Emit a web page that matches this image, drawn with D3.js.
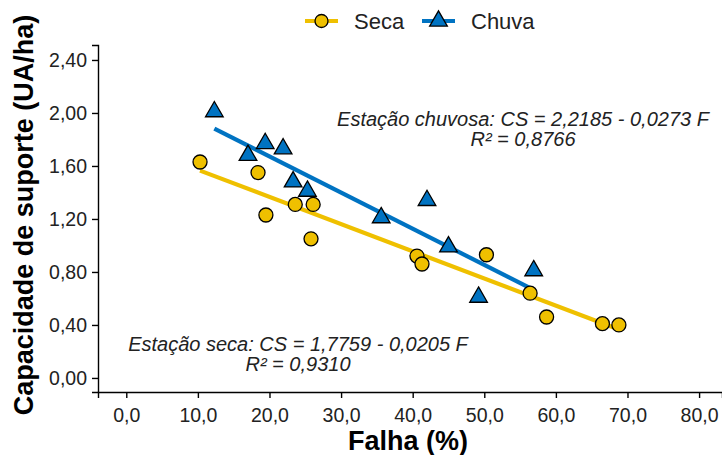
<!DOCTYPE html>
<html>
<head>
<meta charset="utf-8">
<script src="https://cdn.jsdelivr.net/npm/d3@7"></script>
<style>
  html, body { margin: 0; padding: 0; background: #fff; }
  svg { display: block; font-family: "Liberation Sans", Arial, sans-serif; }
</style>
</head>
<body>
<svg id="chart" width="722" height="455"></svg>
<script>
// Dry season observations (failure %, carrying capacity UA/ha)
const secaFalha = [10.3, 18.4, 19.5, 23.6, 26.1, 25.8, 40.6, 41.3, 50.3, 56.4, 58.7, 66.5, 68.8];
const secaCS    = [1.63, 1.55, 1.23, 1.31, 1.31, 1.05, 0.92, 0.86, 0.93, 0.64, 0.46, 0.41, 0.40];

// Rainy season observations
const chuvaFalha = [12.3, 17.0, 19.4, 21.9, 23.3, 25.3, 35.6, 42.0, 45.0, 49.2, 56.9];
const chuvaCS    = [2.01, 1.68, 1.77, 1.73, 1.48, 1.41, 1.21, 1.34, 0.99, 0.61, 0.81];

// Fitted regressions: CS = a - b * F
const secaFit  = { a: 1.7759, b: 0.0205 };
const chuvaFit = { a: 2.2185, b: 0.0273 };

const xTicks = [0, 10, 20, 30, 40, 50, 60, 70, 80];
const yTicks = [0, 0.4, 0.8, 1.2, 1.6, 2.0, 2.4];

const seriesNames = ["Seca", "Chuva"];
const labelsSeca  = ["Estação seca: CS = 1,7759 - 0,0205 F", "R² = 0,9310"];
const labelsChuva = ["Estação chuvosa: CS = 2,2185 - 0,0273 F", "R² = 0,8766"];

const yellow = "#EFC000";
const blue = "#0073C2";

const svg = d3.select("#chart");

const x = d3.scaleLinear().domain([-3.95, 83.2]).range([98, 722]);
const y = d3.scaleLinear().domain([-0.106, 2.513]).range([392, 45]);

const comma = fmt => v => fmt(v).replace(".", ",");

// Axes
const xAxis = svg.append("g")
  .attr("transform", `translate(0,${y.range()[0]})`)
  .call(d3.axisBottom(x).tickValues(xTicks).tickFormat(comma(d3.format(".1f"))).tickSizeOuter(0).tickSize(6).tickPadding(5));
const yAxis = svg.append("g")
  .attr("transform", `translate(${x.range()[0]},0)`)
  .call(d3.axisLeft(y).tickValues(yTicks).tickFormat(comma(d3.format(".2f"))).tickSizeOuter(0).tickSize(6).tickPadding(5));

[xAxis, yAxis].forEach(g => {
  g.select(".domain").attr("stroke", "#000").attr("stroke-width", 1.4);
  g.selectAll(".tick line").attr("stroke", "#000").attr("stroke-width", 1.4);
  g.selectAll(".tick text")
    .attr("fill", "#222")
    .style("font-size", "19.5px")
    .style("font-family", "'Liberation Sans', Arial, sans-serif");
});
xAxis.selectAll(".tick text").attr("dy", "0.95em");

// Axis titles
svg.append("text")
  .attr("x", 408).attr("y", 450)
  .attr("text-anchor", "middle")
  .style("font-size", "27px").style("font-weight", "bold")
  .text("Falha (%)");
svg.append("text")
  .attr("transform", "translate(33,215) rotate(-90)")
  .attr("text-anchor", "middle")
  .style("font-size", "27px").style("font-weight", "bold")
  .text("Capacidade de suporte (UA/ha)");

// Regression lines over the observed range of each season
function fitLine(fit, xs, color) {
  const [x0, x1] = d3.extent(xs);
  svg.append("line")
    .attr("x1", x(x0)).attr("y1", y(fit.a - fit.b * x0))
    .attr("x2", x(x1)).attr("y2", y(fit.a - fit.b * x1))
    .attr("stroke", color).attr("stroke-width", 4.2);
}
fitLine(secaFit, secaFalha, yellow);
fitLine(chuvaFit, chuvaFalha, blue);

// Points
const tri = d3.symbol().type(d3.symbolTriangle).size(135);

svg.append("g").selectAll("circle")
  .data(d3.zip(secaFalha, secaCS))
  .join("circle")
  .attr("cx", d => x(d[0])).attr("cy", d => y(d[1]))
  .attr("r", 7)
  .attr("fill", yellow).attr("stroke", "#000").attr("stroke-width", 1.3);

svg.append("g").selectAll("path")
  .data(d3.zip(chuvaFalha, chuvaCS))
  .join("path")
  .attr("d", tri)
  .attr("transform", d => `translate(${x(d[0])},${y(d[1])})`)
  .attr("fill", blue).attr("stroke", "#000").attr("stroke-width", 1.3);

// Equation annotations
function annotate(lines, cx, baseline) {
  const t = svg.append("text")
    .attr("text-anchor", "middle")
    .style("font-size", "20px").style("font-style", "italic")
    .attr("fill", "#222");
  lines.forEach((s, i) => {
    t.append("tspan").attr("x", cx).attr("y", baseline + i * 20).text(s);
  });
}
annotate(labelsChuva, 523, 126);
annotate(labelsSeca, 298, 351);

// Legend
const legend = svg.append("g");
const keyY = 21;
const keys = [
  { name: seriesNames[0], color: yellow, x0: 305, tx: 354, shape: "circle" },
  { name: seriesNames[1], color: blue, x0: 422, tx: 471, shape: "triangle" }
];
keys.forEach(k => {
  legend.append("line")
    .attr("x1", k.x0).attr("x2", k.x0 + 33)
    .attr("y1", keyY).attr("y2", keyY)
    .attr("stroke", k.color).attr("stroke-width", 4.2);
  if (k.shape === "circle") {
    legend.append("circle")
      .attr("cx", k.x0 + 16.5).attr("cy", keyY).attr("r", 6.5)
      .attr("fill", k.color).attr("stroke", "#000").attr("stroke-width", 1.3);
  } else {
    legend.append("path")
      .attr("d", tri)
      .attr("transform", `translate(${k.x0 + 16.5},${keyY})`)
      .attr("fill", k.color).attr("stroke", "#000").attr("stroke-width", 1.3);
  }
  legend.append("text")
    .attr("x", k.tx).attr("y", keyY + 8)
    .style("font-size", "22px")
    .attr("fill", "#222")
    .text(k.name);
});
</script>
</body>
</html>
